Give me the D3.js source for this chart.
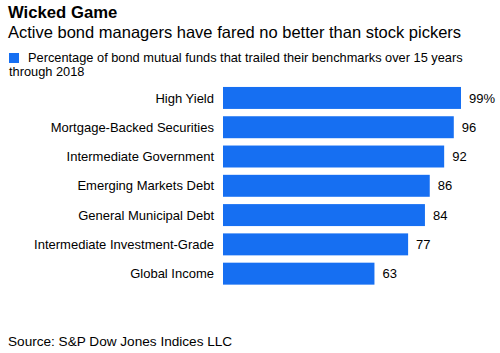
<!DOCTYPE html>
<html lang="en">
  <head>
    <meta charset="UTF-8" />
    <title>Wicked Game</title>
    <script src="https://cdn.jsdelivr.net/npm/d3@7"></script>
    <style>
      body { margin: 0; background: #fff; }
      svg text { font-family: "Liberation Sans", Arial, Helvetica, sans-serif; fill: #000; }
    </style>
  </head>
  <body>
    <div class="chart"></div>
    <script>
    // data
    var categories = ["High Yield", "Mortgage-Backed Securities", "Intermediate Government",
      "Emerging Markets Debt", "General Municipal Debt", "Intermediate Investment-Grade", "Global Income"];
    var values = [99, 96, 92, 86, 84, 77, 63];
    var valueLabels = ["99%", "96", "92", "86", "84", "77", "63"];

    var w = 500, h = 353;
    var blue = "#166ff2";

    var svg = d3.select(".chart").append("svg")
      .attr("width", w)
      .attr("height", h);

    // header
    svg.append("text")
      .attr("x", 8).attr("y", 18)
      .style("font-size", "16.7px").style("font-weight", "bold")
      .text("Wicked Game");
    svg.append("text")
      .attr("x", 8).attr("y", 38)
      .style("font-size", "16.5px")
      .text("Active bond managers have fared no better than stock pickers");

    // legend
    svg.append("rect")
      .attr("x", 9).attr("y", 53)
      .attr("width", 10).attr("height", 10)
      .attr("fill", blue);
    svg.append("text")
      .attr("x", 28).attr("y", 62)
      .style("font-size", "12.8px")
      .text("Percentage of bond mutual funds that trailed their benchmarks over 15 years");
    svg.append("text")
      .attr("x", 9).attr("y", 76)
      .style("font-size", "12.8px")
      .text("through 2018");

    var x = d3.scaleLinear().domain([0, 100]).range([223, 463.4]);
    var y = d3.scaleBand().domain(categories)
      .range([83.3, 288.3])
      .paddingInner(0.25)
      .paddingOuter(0.125);

    svg.selectAll(".bar")
      .data(values)
      .enter()
      .append("rect")
      .attr("class", "bar")
      .attr("x", x(0))
      .attr("y", function(d, i) { return y(categories[i]); })
      .attr("width", function(d) { return x(d) - x(0); })
      .attr("height", y.bandwidth())
      .attr("fill", blue);

    // category labels
    svg.selectAll(".cat")
      .data(categories)
      .enter()
      .append("text")
      .attr("class", "cat")
      .attr("x", 214)
      .attr("y", function(d) { return y(d) + y.bandwidth() / 2; })
      .attr("dy", "0.36em")
      .attr("text-anchor", "end")
      .style("font-size", "13px")
      .text(function(d) { return d; });

    // value labels
    svg.selectAll(".val")
      .data(values)
      .enter()
      .append("text")
      .attr("class", "val")
      .attr("x", function(d) { return x(d) + 8; })
      .attr("y", function(d, i) { return y(categories[i]) + y.bandwidth() / 2; })
      .attr("dy", "0.36em")
      .style("font-size", "13px")
      .text(function(d, i) { return valueLabels[i]; });

    svg.append("text")
      .attr("x", 8).attr("y", 346)
      .style("font-size", "13.6px")
      .text("Source: S&P Dow Jones Indices LLC");
    </script>
  </body>
</html>
